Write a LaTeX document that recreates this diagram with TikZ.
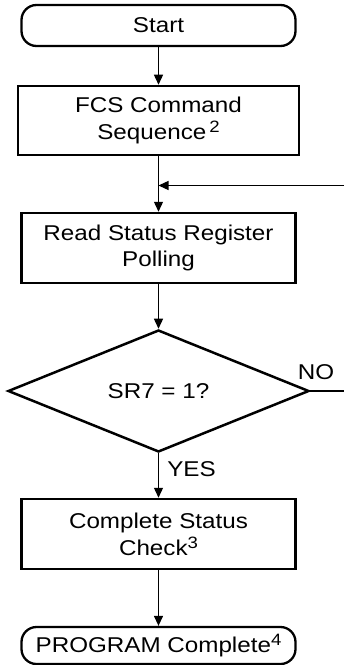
\documentclass[tikz,border=0pt]{standalone}
\usepackage{fontspec}
\setmainfont{Liberation Sans}[FakeStretch=1.13]
\usetikzlibrary{shapes.geometric,arrows.meta}
\newcommand\supx[1]{\raisebox{7bp}{\fontsize{16.5}{16.5}\selectfont #1}}
\begin{document}
\begin{tikzpicture}[x=1bp,y=-1bp,
  txt/.style={font=\fontsize{21.5}{27}\selectfont},
  box/.style={txt, draw, line width=2.5bp, minimum width=274bp, minimum height=70bp, align=center, inner sep=0pt},
  term/.style={txt, draw, line width=2.3bp, rounded corners=15bp, minimum width=274bp, align=center, inner sep=0pt},
  dec/.style={txt, draw, diamond, line width=2.5bp, minimum width=301bp, minimum height=122bp, inner sep=0pt},
  conn/.style={line width=1.3bp},
  arr/.style={conn, -{Triangle[length=10bp,width=9bp]}},
  lbl/.style={txt, inner sep=0pt}
]
\useasboundingbox (0,0) rectangle (344,665);
\node[term, minimum height=41bp] (start) at (158.5,25.5) {Start};
\node[box, minimum width=281bp, minimum height=69bp] (fcs) at (158.5,120.5) {FCS Command\\Sequence\hspace{3bp}\supx{2}};
\node[box] (read) at (158.5,248) {Read Status Register\\Polling};
\node[dec] (dec) at (158.5,391) {SR7 = 1?};
\node[box] (comp) at (158.5,534) {Complete Status\\Check\supx{3}};
\node[term, minimum height=37bp] (prog) at (158.5,645.5) {PROGRAM Complete\supx{4}};
\coordinate (j) at (158.5,185.5);
\coordinate (loopin) at (344,185.5);
\coordinate (noend) at (344,391);
\draw[arr] (start) -- (fcs);
\draw[arr] (fcs) -- (read);
\draw[arr] (loopin) -- (j);
\draw[arr] (read) -- (dec);
\draw[conn] (dec.east) -- (noend);
\draw[arr] (dec) -- (comp);
\draw[arr] (comp) -- (prog);
\node[lbl] (no) at (316,372.5) {NO};
\node[lbl] (yes) at (191.5,469.5) {YES};
\end{tikzpicture}
\end{document}
